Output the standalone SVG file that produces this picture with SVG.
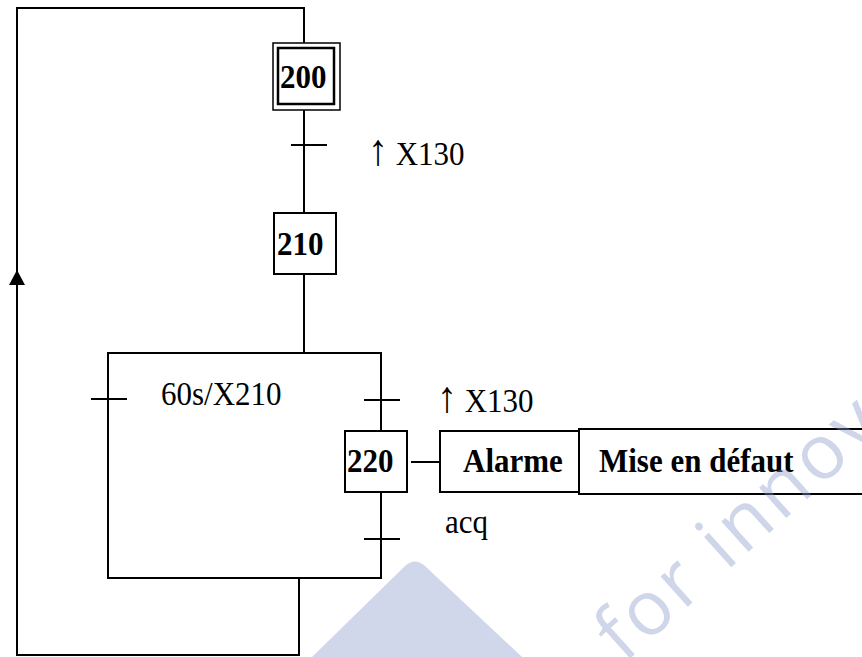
<svg xmlns="http://www.w3.org/2000/svg" width="862" height="657" viewBox="0 0 862 657">
<style>
.ln{fill:none;stroke:#000;stroke-width:2}
.box{fill:#fff;stroke:#000;stroke-width:2}
.b{font-family:"Liberation Serif",serif;font-weight:bold;font-size:31px;fill:#000}
.t{font-family:"Liberation Serif",serif;font-size:31px;fill:#000}
.up{font-size:40px}
.wm{fill:#8a9acb;opacity:0.4}
</style>
<defs>
<marker id="arr" markerWidth="16" markerHeight="16" refX="15" refY="8" orient="auto" markerUnits="userSpaceOnUse" viewBox="0 0 16 16">
<path d="M0,0 L15,8 L0,16 Z" fill="#000"/>
</marker>
</defs>
<rect width="862" height="657" fill="#fff"/>
<g id="connectors">
<path class="ln" d="M304,43 V8 H17 V655 H299 V578"/>
<path d="M17,286 V270" fill="none" stroke="none" marker-end="url(#arr)"/>
<line class="ln" x1="304" y1="110" x2="304" y2="213"/>
<line class="ln" x1="291" y1="145" x2="327" y2="145"/>
<line class="ln" x1="304" y1="274" x2="304" y2="353"/>
<rect class="ln" x="108" y="353" width="273" height="225"/>
<line class="ln" x1="91" y1="399" x2="127" y2="399"/>
<line class="ln" x1="364" y1="400" x2="400" y2="400"/>
<line class="ln" x1="364" y1="539" x2="400" y2="539"/>
<line class="ln" x1="411" y1="462" x2="440" y2="462"/>
</g>
<g id="step200">
<rect x="273" y="43" width="67" height="67" fill="#fff" stroke="#000" stroke-width="1.5"/>
<rect x="278" y="48" width="56" height="56" fill="#fff" stroke="#000" stroke-width="2.5"/>
<text class="b" transform="translate(280,88) scale(1,1.1)">200</text>
</g>
<g id="t1">
<text class="t" transform="translate(368,165) scale(1,1.1)"><tspan class="up">↑</tspan> X130</text>
</g>
<g id="step210">
<rect class="box" x="274" y="213" width="62" height="61"/>
<text class="b" transform="translate(277,255) scale(1,1.1)">210</text>
</g>
<g id="t2">
<text class="t" transform="translate(161,405) scale(1,1.1)">60s/X210</text>
</g>
<g id="t3">
<text class="t" transform="translate(437,412) scale(1,1.1)"><tspan class="up">↑</tspan> X130</text>
</g>
<g id="step220">
<rect class="box" x="345" y="431" width="62" height="61"/>
<text class="b" transform="translate(347,472) scale(1,1.1)">220</text>
</g>
<g id="t4">
<text class="t" transform="translate(445,533) scale(1,1.1)">acq</text>
</g>
<g id="action-alarme">
<rect class="box" x="440" y="431" width="139" height="61"/>
<text class="b" transform="translate(463,472) scale(1,1.1)">Alarme</text>
</g>
<g id="action-defaut">
<rect class="box" x="579" y="429" width="295" height="65"/>
<text class="b" transform="translate(599,472) scale(1,1.1)">Mise en défaut</text>
</g>
<g id="watermark">
<path class="wm" d="M312,657 L405,566 Q415,557 425,566 L522,657 Z"/>
<text class="wm" transform="translate(624,664) rotate(-42)" font-family="'Open Sans',sans-serif" font-size="76" letter-spacing="4">for innov</text>
</g>
</svg>
